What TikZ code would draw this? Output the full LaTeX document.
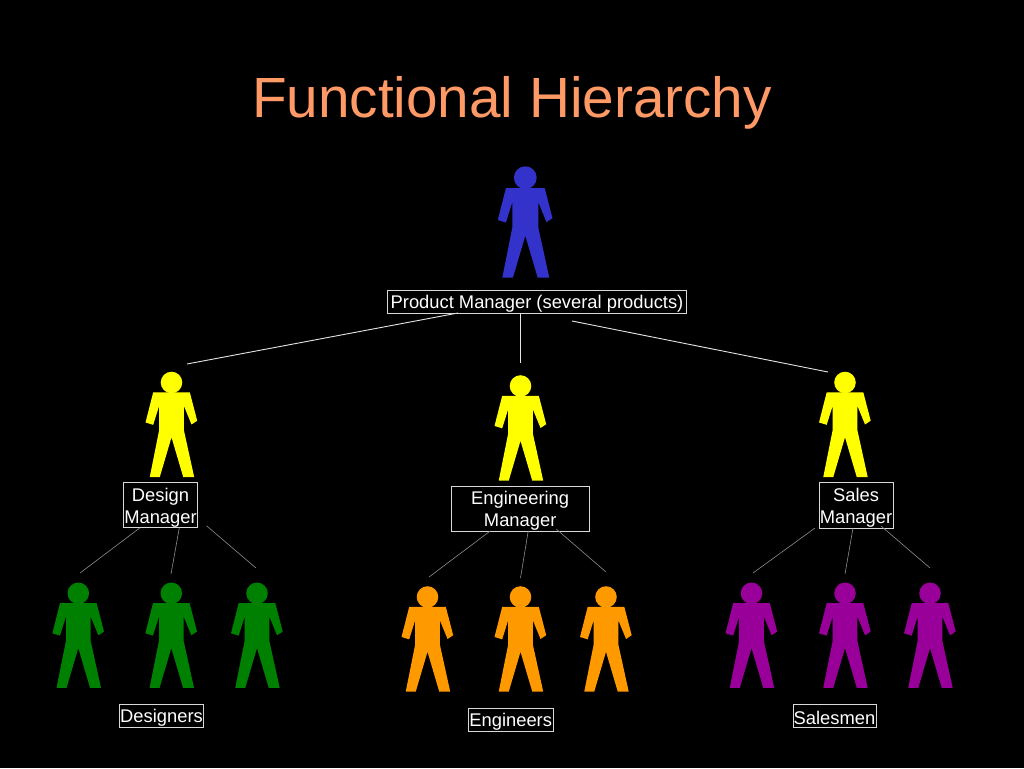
\documentclass[tikz,border=0pt]{standalone}
\usepackage{fontspec}
\setmainfont{Liberation Sans}
\usetikzlibrary{positioning}
\definecolor{bgSlide}{HTML}{000000}
\definecolor{textTitle}{HTML}{FF9966}
\definecolor{cChief}{HTML}{3333CC}
\definecolor{cLead}{HTML}{FFFF00}
\definecolor{cDesign}{HTML}{008000}
\definecolor{cEng}{HTML}{FF9900}
\definecolor{cSales}{HTML}{990099}
\tikzset{
  role box/.style={draw=white!85!black,line width=0.9pt,text=white,align=center,
                   inner sep=0pt,outer sep=0pt,font=\fontsize{18.35pt}{22pt}\selectfont,
                   execute at begin node={\rule{0pt}{17.5pt}}},
  two lines/.style={execute at begin node={\rule{0pt}{40.6pt}}},
  link main/.style={draw=white!90!black,line width=0.9pt},
  link thin/.style={draw=white!55!black,line width=0.6pt},
}
\newcommand{\personShape}[4]{%
  \begin{scope}[shift={(#2,#3)},scale=#1]
    \fill[#4] (0,0) circle (11.4);
    \fill[#4] (-19.4,10.5) -- (19.4,10.5) -- (27.2,40.5) -- (21.2,44.4) -- (13,24.5)
      -- (13,50) -- (24,100) -- (12.4,100) -- (0,58) -- (-12.4,100) -- (-23,100)
      -- (-13,50) -- (-13,24.5) -- (-19.4,44.8) -- (-27.5,42.3) -- cycle;
  \end{scope}%
}

\begin{document}
\begin{tikzpicture}[x=1pt,y=-1pt]
  \useasboundingbox[fill=bgSlide] (0,0) rectangle (1024,768);
  \node[text=textTitle,font=\fontsize{56.7pt}{62pt}\selectfont] (title) at (512,103) {Functional Hierarchy};

  \personShape{1}{525.3}{177.7}{cChief}
  \foreach \px/\py in {171.5/382.5,520.5/386,845/382.5} {
    \personShape{0.945}{\px}{\py}{cLead}
  }
  \foreach \px in {78.3,171.3,257} {
    \personShape{0.945}{\px}{593.3}{cDesign}
  }
  \foreach \px in {427.5,520.5,606} {
    \personShape{0.945}{\px}{597}{cEng}
  }
  \foreach \px in {751.5,845,930} {
    \personShape{0.945}{\px}{593.3}{cSales}
  }

  \node[role box,minimum width=299pt,minimum height=23pt] (pm) at (537,301.5) {Product Manager (several products)};
  \node[role box,two lines,minimum width=74.5pt,minimum height=45.5pt] (dm) at (160.5,505) {Design\\Manager};
  \node[role box,two lines,minimum width=137.5pt,minimum height=45pt] (em) at (520.2,508.5) {Engineering\\Manager};
  \node[role box,two lines,minimum width=74pt,minimum height=46pt] (sm) at (856,505) {Sales\\Manager};
  \node[role box,minimum width=84.5pt,minimum height=23pt] (dg) at (161.5,716) {Designers};
  \node[role box,minimum width=84.5pt,minimum height=23pt] (en) at (510.7,719.5) {Engineers};
  \node[role box,minimum width=83pt,minimum height=23pt] (sl) at (834.5,715.5) {Salesmen};

  % free ends above the heads
  \coordinate (l1) at (187,364);
  \coordinate (l2) at (520.5,363);
  \coordinate (l3) at (828,372);
  \coordinate (d1) at (80,573);
  \coordinate (d2) at (171,574);
  \coordinate (d3) at (256,568);
  \coordinate (e1) at (429,577);
  \coordinate (e2) at (520.5,578);
  \coordinate (e3) at (606,572);
  \coordinate (s1) at (753,573);
  \coordinate (s2) at (845,574);
  \coordinate (s3) at (930,568);

  \draw[link main] ([xshift=70.5pt]pm.south west) -- (l1);
  \draw[link main] ([xshift=133pt]pm.south west) -- (l2);
  \draw[link main] ([xshift=184.5pt,yshift=-8pt]pm.south west) -- (l3);
  \foreach \b/\e/\sa/\sb/\sc in {dm/d/-20.5/18.8/46,em/e/-30/8/36,sm/s/-41/-3/25} {
    \draw[link thin] ([xshift=\sa pt]\b.south) -- (\e1);
    \draw[link thin] ([xshift=\sb pt]\b.south) -- (\e2);
    \draw[link thin] ([xshift=\sc pt,yshift=2pt]\b.south) -- (\e3);
  }
\end{tikzpicture}
\end{document}
